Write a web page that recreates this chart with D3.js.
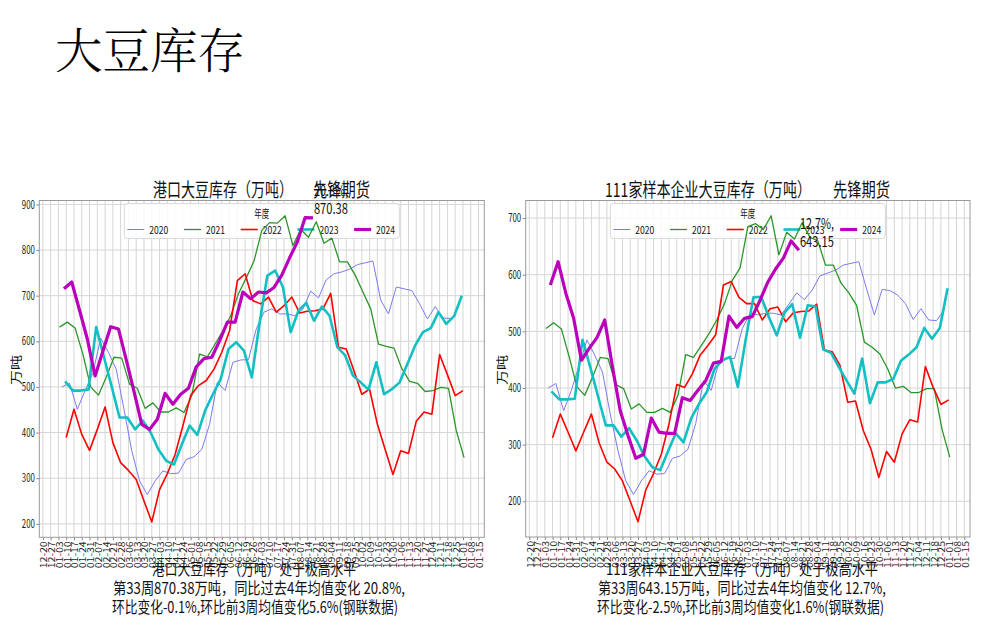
<!DOCTYPE html>
<html><head><meta charset="utf-8">
<script src="https://cdn.jsdelivr.net/npm/d3@7"></script>
<style>body{margin:0;background:#fff} svg{display:block}</style>
</head><body>
<svg id="c" width="983" height="638"></svg>
<script>
// ---------------- DATA ----------------
const tickLabels = ["12-20","12-27","01-03","01-10","01-17","01-24","01-31","02-07","02-14","02-21","02-28",
  "03-06","03-13","03-20","03-27","04-03","04-10","04-17","04-24","05-01","05-08","05-15","05-22","05-29",
  "06-05","06-12","06-19","06-26","07-03","07-10","07-17","07-24","07-31","08-07","08-14","08-21","08-28",
  "09-04","09-11","09-18","09-25","10-02","10-09","10-16","10-23","10-30","11-06","11-13","11-20","11-27",
  "12-04","12-11","12-18","12-25","01-01","01-08","01-15"];
const years = ["2020","2021","2022","2023","2024"];
// first weekly observation of each year, placed on the common calendar axis
const startDates = ["01-06","01-04","01-10","01-09","01-08"];

// 港口大豆库存（万吨）
const port2020 = [500,508,451,492,530,607,576,539,451,360,294,264,294,316,310,311,341,347,363,418,510,492,554,559,560,627,
  664,671,660,660,656,671,710,695,735,748,752,758,768,772,776,690,660,719,715,711,682,649,676,651,650];
const port2021 = [631,642,629,572,500,482,521,565,563,506,497,453,465,445,445,454,444,481,572,566,594,623,656,704,739,776,
  843,860,859,875,810,845,828,862,815,826,774,774,745,708,671,594,589,585,540,512,508,490,492,499,497,404,345];
const port2022 = [389,451,396,361,407,456,378,334,317,297,250,204,275,310,352,415,481,503,514,539,576,623,733,748,689,682,
  697,664,678,697,662,666,667,671,705,587,583,535,484,495,418,363,308,360,354,425,445,440,571,527,481,492];
const port2023 = [512,492,492,494,631,565,500,433,433,407,426,400,363,338,330,374,415,395,448,484,517,583,598,579,521,640,
  744,755,719,620,667,684,645,676,656,587,569,525,510,494,554,484,495,510,550,591,620,629,664,638,655,700];
const port2024 = [715,730,668,605,524,578,632,627,560,490,418,407,429,486,462,484,497,544,562,565,601,642,642,708,693,708,
  706,718,745,783,818,871.2,870.38];

// 111家样本企业大豆库存（万吨）
const sample2020 = [400,408,360,396,440,485,458,428,354,289,236,212,236,254,248,249,276,280,292,337,413,396,446,452,452,505,
  532,529,532,532,529,548,568,556,573,598,603,608,617,620,623,575,529,574,572,564,549,521,540,520,519,538];
const sample2021 = [505,515,504,455,402,387,419,454,452,406,399,363,372,357,357,364,357,387,459,454,475,496,520,549,590,612,
  685,690,680,704,635,675,663,692,666,660,617,617,585,568,546,481,472,460,434,400,403,392,392,399,399,327,278];
const sample2022 = [312,354,322,289,322,354,303,269,257,236,200,164,220,249,283,337,406,401,425,458,475,494,582,588,560,549,
  549,520,540,543,517,533,535,536,548,467,464,440,375,377,325,292,242,288,269,319,344,340,438,401,371,379];
const sample2023 = [394,380,380,381,485,437,385,334,334,314,329,307,279,260,255,288,320,304,347,372,393,434,449,455,402,485,
  560,561,525,493,533,548,489,546,544,468,462,437,413,390,452,373,410,410,416,448,459,472,506,487,506,576];
const sample2024 = [582,623,567,523,449,470,489,520,437,360,316,276,283,347,322,320,320,383,378,396,413,444,447,527,507,523,
  526,555,587,610,629.4,659.6,643.15];

const yTicksPort = [200,300,400,500,600,700,800,900];
const yTicksSample = [200,300,400,500,600,700];

// ---------------- STYLE ----------------
const colors = ["#7b7bef","#2a962a","#ff0000","#12bfc2","#bb00bb"];
const widths = [1, 1.3, 1.6, 2.6, 3.2];
const FONT = "'Noto Sans CJK SC','Noto Sans',sans-serif";
const SERIF = "'Noto Serif CJK SC','Noto Serif SC','Noto Sans CJK SC',serif";

const svg = d3.select("#c");

const base = Date.UTC(2023, 11, 20);
const tickDays = (() => {
  let yr = 2023, lastM = 12, out = [];
  tickLabels.forEach(s => {
    const [m, d] = s.split("-").map(Number);
    if (m < lastM) yr += 1;
    lastM = m;
    out.push((Date.UTC(yr, m - 1, d) - base) / 86400000);
  });
  return out;
})();
function startDay(mmdd) {
  const [m, d] = mmdd.split("-").map(Number);
  return (Date.UTC(2024, m - 1, d) - base) / 86400000;
}

function txt(g, s, x, y, size, len, opts = {}) {
  const t = g.append("text").attr("x", x).attr("y", y).text(s)
    .attr("font-family", opts.family || FONT).attr("font-size", size).attr("fill", opts.fill || "#111");
  if (len) t.attr("textLength", len).attr("lengthAdjust", "spacingAndGlyphs");
  if (opts.anchor) t.attr("text-anchor", opts.anchor);
  if (opts.weight) t.attr("font-weight", opts.weight);
  return t;
}

function drawPanel(p) {
  const g = svg.append("g");
  const series = p.series.map((vals, i) => {
    const s0 = startDay(startDates[i]);
    return { year: years[i], color: colors[i], width: widths[i],
      pts: vals.map((v, k) => ({ d: s0 + 7 * k, v })) };
  });
  const allD = series.flatMap(s => s.pts.map(q => q.d));
  const allV = series.flatMap(s => s.pts.map(q => q.v));
  const [d0, d1] = d3.extent(allD), [v0, v1] = d3.extent(allV);
  const dp = (d1 - d0) * 0.05, vp = (v1 - v0) * 0.05;
  const x = d3.scaleLinear().domain([d0 - dp, d1 + dp]).range([p.left, p.right]);
  const y = d3.scaleLinear().domain([v0 - vp, v1 + vp]).range([p.bottom, p.top]);

  // grid
  g.append("g").selectAll("line").data(tickDays).join("line")
    .attr("x1", d => x(d)).attr("x2", d => x(d)).attr("y1", p.top).attr("y2", p.bottom)
    .attr("stroke", "#d6d6d6").attr("stroke-width", 1);
  g.append("g").selectAll("line").data(p.yTicks).join("line")
    .attr("x1", p.left).attr("x2", p.right).attr("y1", d => y(d)).attr("y2", d => y(d))
    .attr("stroke", "#d6d6d6").attr("stroke-width", 1);

  // axes
  const xAxis = d3.axisBottom(x).tickValues(tickDays).tickFormat((d, i) => tickLabels[i]).tickSize(3).tickPadding(2);
  const xa = g.append("g").attr("transform", `translate(0,${p.bottom})`).call(xAxis);
  xa.select(".domain").remove();
  xa.selectAll(".tick line").attr("stroke", "#888");
  xa.selectAll(".tick text")
    .attr("font-family", FONT).attr("font-size", 11).attr("fill", "#1a1a1a")
    .attr("textLength", 27).attr("lengthAdjust", "spacingAndGlyphs")
    .attr("text-anchor", "end").attr("dy", null).attr("y", null)
    .attr("transform", "translate(0,4) scale(0.8,1) rotate(-90)")
    .attr("dominant-baseline", "central");

  const yAxis = d3.axisLeft(y).tickValues(p.yTicks).tickFormat(d3.format("d")).tickSize(3).tickPadding(1.5);
  const ya = g.append("g").attr("transform", `translate(${p.left},0)`).call(yAxis);
  ya.select(".domain").remove();
  ya.selectAll(".tick line").attr("stroke", "#888");
  ya.selectAll(".tick text").attr("font-family", FONT).attr("font-size", 11.5).attr("fill", "#1a1a1a")
    .attr("textLength", 13).attr("lengthAdjust", "spacingAndGlyphs");

  // frame
  g.append("rect").attr("x", p.left).attr("y", p.top).attr("width", p.right - p.left).attr("height", p.bottom - p.top)
    .attr("fill", "none").attr("stroke", "#9a9a9a").attr("stroke-width", 1);

  // legend box (upper center)
  const lw = 275, lh = 35, cx = (p.left + p.right) / 2, lx = cx - lw / 2, ly = p.top + 3;
  const lg = g.append("g");
  lg.append("rect").attr("x", lx).attr("y", ly).attr("width", lw).attr("height", lh).attr("rx", 3)
    .attr("fill", "#fff").attr("fill-opacity", 0.85).attr("stroke", "#d9d9d9");
  txt(lg, "年度", cx, ly + 14, 11, 15, { anchor: "middle" });
  series.forEach((s, i) => {
    const ex = lx + 3 + i * 56.7;
    lg.append("line").attr("x1", ex).attr("x2", ex + 17).attr("y1", ly + 26).attr("y2", ly + 26)
      .attr("stroke", s.color).attr("stroke-width", s.width);
    txt(lg, s.year, ex + 22, ly + 30, 11, 19);
  });

  // lines
  const line = d3.line().x(q => x(q.d)).y(q => y(q.v));
  g.append("g").selectAll("path").data(series).join("path")
    .attr("d", s => line(s.pts)).attr("fill", "none")
    .attr("stroke", s => s.color).attr("stroke-width", s => s.width)
    .attr("stroke-linejoin", "round").attr("stroke-linecap", "butt");

  // last point annotation
  const last = series[4].pts[series[4].pts.length - 1];
  const ax = x(last.d) + 1, ay = y(last.v);
  txt(g, p.ann1, ax, ay - 21.5, 15, 34);
  txt(g, p.ann2, ax, ay - 3.5, 15, 34);

  // titles
  txt(g, p.title1, p.t1x, 197, 19, p.t1len);
  txt(g, "先锋期货", p.t2x, 197, 19, 57);

  // y label
  g.append("text").text("万吨").attr("font-family", FONT).attr("font-size", 15).attr("fill", "#111")
    .attr("text-anchor", "middle").attr("dominant-baseline", "central")
    .attr("transform", `translate(${p.left - 24},370) scale(0.8,1) rotate(-90)`);

  // bottom commentary
  p.notes.forEach((n, i) => txt(g, n.s, n.x, [575, 594, 613][i], 16, n.len));
}

// main title
txt(svg, "大豆库存", 55, 68, 48, 190, { fill: "#000", family: SERIF, weight: 300 });

drawPanel({
  left: 39.3, right: 484.3, top: 200.5, bottom: 537.3,
  series: [port2020, port2021, port2022, port2023, port2024], yTicks: yTicksPort,
  title1: "港口大豆库存（万吨）", t1x: 153, t1len: 140, t2x: 313,
  ann1: "20.8%,", ann2: "870.38",
  notes: [
    { s: "港口大豆库存（万吨）处于极高水平", x: 152, len: 204 },
    { s: "第33周870.38万吨，同比过去4年均值变化 20.8%,", x: 113, len: 292 },
    { s: "环比变化-0.1%,环比前3周均值变化5.6%(钢联数据)", x: 112, len: 286 }
  ]
});
drawPanel({
  left: 525.7, right: 970, top: 200.5, bottom: 537,
  series: [sample2020, sample2021, sample2022, sample2023, sample2024], yTicks: yTicksSample,
  title1: "111家样本企业大豆库存（万吨）", t1x: 605, t1len: 206, t2x: 833,
  ann1: "12.7%,", ann2: "643.15",
  notes: [
    { s: "111家样本企业大豆库存（万吨）处于极高水平", x: 606, len: 272 },
    { s: "第33周643.15万吨，同比过去4年均值变化 12.7%,", x: 598, len: 288 },
    { s: "环比变化-2.5%,环比前3周均值变化1.6%(钢联数据)", x: 597, len: 287 }
  ]
});
</script>
</body></html>
